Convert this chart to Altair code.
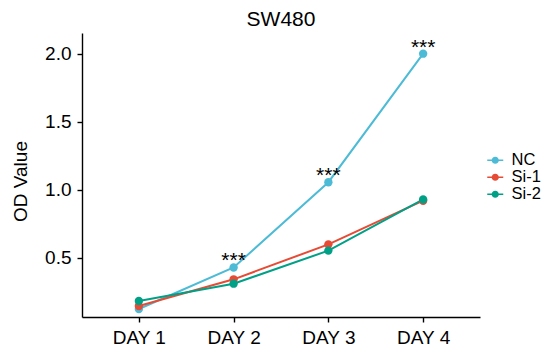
import altair as alt
import pandas as pd

days = ["DAY 1", "DAY 2", "DAY 3", "DAY 4"]
groups = ["NC", "Si-1", "Si-2"]
nc_values = [0.125, 0.43, 1.057, 2.002]
si1_values = [0.147, 0.343, 0.600, 0.921]
si2_values = [0.184, 0.311, 0.554, 0.930]
colors = ["#4DBBD5", "#E64B35", "#00A087"]
y_ticks = [0.5, 1.0, 1.5, 2.0]
sig_days = ["DAY 2", "DAY 3", "DAY 4"]
sig_values = [0.43, 1.057, 2.002]
sig_labels = ["***", "***", "***"]

series = {"NC": nc_values, "Si-1": si1_values, "Si-2": si2_values}
rows = []
for gi, g in enumerate(groups):
    for d, v in zip(days, series[g]):
        rows.append({"day": d, "value": v, "group": g, "ord": gi})
df = pd.DataFrame(rows)
sig_df = pd.DataFrame({"day": sig_days, "value": sig_values, "label": sig_labels})

FONT = "Liberation Sans"
legend_path = ("M-1,-0.1 L1,-0.1 L1,0.1 L-1,0.1 Z "
               "M0.45,0 A0.45,0.45 0 1,1 -0.45,0 A0.45,0.45 0 1,1 0.45,0 Z")

legend = alt.Legend(title=None, orient="none", legendX=405, legendY=119,
                    symbolType=legend_path, symbolSize=256,
                    symbolOpacity=1, symbolStrokeWidth=0,
                    labelFont=FONT, labelFontSize=16.5, labelColor="black",
                    labelOffset=8, rowPadding=0)

x_enc = alt.X("day:N", sort=days,
              scale=alt.Scale(type="point", padding=0.6),
              axis=alt.Axis(title=None, labelAngle=0, labelPadding=6))
y_enc = alt.Y("value:Q",
              scale=alt.Scale(domain=[0.066, 2.154], nice=False, zero=False),
              axis=alt.Axis(values=y_ticks, format=".1f", title="OD Value",
                            labelPadding=6, titleX=-52, titleY=148))
color_enc = alt.Color("group:N", scale=alt.Scale(domain=groups, range=colors),
                      legend=legend)

base = alt.Chart(df)
lines = base.mark_line(strokeWidth=2).encode(
    x=x_enc, y=y_enc, color=color_enc, order=alt.Order("ord:Q"),
)
points = base.mark_circle(size=70, opacity=1).encode(
    x=x_enc, y=y_enc, color=color_enc, order=alt.Order("ord:Q"),
)
stars = alt.Chart(sig_df).mark_text(fontSize=21, font=FONT, baseline="alphabetic",
                                     color="black").encode(
    x=alt.X("day:N", sort=days), y=alt.Y("value:Q"), text="label:N")

chart = alt.layer(lines, points, stars).properties(
    width=398, height=284,
    title=alt.TitleParams("SW480", fontSize=21, font=FONT, fontWeight="normal",
                          anchor="middle", offset=3, color="black"),
    padding={"left": 74, "top": 25, "right": 67, "bottom": 31},
    autosize=alt.AutoSizeParams(type="none"),
).configure_axis(
    domainColor="black", domainWidth=1.4, tickColor="black", tickWidth=1.4, tickSize=5,
    labelFont=FONT, labelFontSize=19, labelColor="black", grid=False,
    titleFont=FONT, titleFontSize=19, titleFontWeight="normal", titleColor="black",
).configure_view(stroke="transparent")

chart.save("out.html", embed_options={"renderer": "svg", "actions": False})
